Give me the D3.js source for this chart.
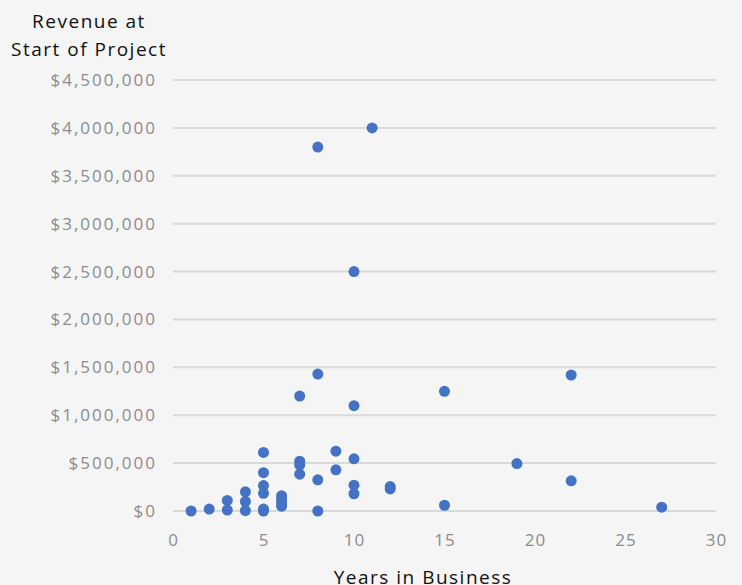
<!DOCTYPE html>
<html>
<head>
<meta charset="utf-8">
<script src="https://cdn.jsdelivr.net/npm/d3@7"></script>
<style>
  body { margin: 0; background: #f5f5f5; }
  svg { display: block; font-family: "Open Sans", Lato, sans-serif; }
</style>
</head>
<body>
<svg id="chart" width="742" height="585"></svg>
<script>
// years in business for each project
var years = [1, 2, 3, 3, 4, 4, 4, 5, 5, 5, 5, 5, 5,
    6, 6, 6, 6, 7, 7, 7, 7, 8, 8, 8, 8, 9, 9,
    10, 10, 10, 10, 10, 11, 12, 12, 15, 15, 19, 22, 22, 27];
// revenue at start of project, same order
var revenue = [0, 20000, 10000, 110000, 5000, 100000, 200000, 0, 20000, 185000, 265000, 400000, 612000,
    50000, 80000, 120000, 160000, 385000, 480000, 520000, 1200000, 0, 325000, 1430000, 3800000, 430000, 625000,
    180000, 270000, 545000, 1100000, 2500000, 4000000, 230000, 255000, 60000, 1250000, 495000, 315000, 1420000, 40000];

var yTicks = [0, 500000, 1000000, 1500000, 2000000, 2500000, 3000000, 3500000, 4000000, 4500000];
var xTicks = [0, 5, 10, 15, 20, 25, 30];

var points = years.map(function(d, i) { return {years: d, revenue: revenue[i]}; });

var plotLeft = 173, plotRight = 716, plotTop = 80, plotBottom = 511;

var x = d3.scaleLinear().domain([0, 30]).range([plotLeft, plotRight]);
var y = d3.scaleLinear().domain([0, 4500000]).range([plotBottom, plotTop]);

var svg = d3.select('#chart');

svg.append('rect').attr('width', 742).attr('height', 585).attr('fill', '#f5f5f5');

// grid lines
svg.append('g').selectAll('line').data(yTicks).enter().append('line')
    .attr('x1', plotLeft).attr('x2', plotRight)
    .attr('y1', function(d) { return y(d); })
    .attr('y2', function(d) { return y(d); })
    .attr('stroke', '#d9d9d9')
    .attr('stroke-width', 2);

var fmt = d3.format('$,');

var yAxis = svg.append('g')
    .attr('transform', 'translate(' + (plotLeft - 16) + ',0)')
    .call(d3.axisLeft(y).tickValues(yTicks).tickSize(0).tickPadding(0).tickFormat(fmt));
yAxis.select('.domain').remove();
yAxis.selectAll('text')
    .attr('fill', '#8c8c8c')
    .style('font-size', '17px')
    .style('letter-spacing', '2px')
    .style('font-family', '"Open Sans", Lato, sans-serif');

var xAxis = svg.append('g')
    .attr('transform', 'translate(0,' + (plotBottom + 23) + ')')
    .call(d3.axisBottom(x).tickValues(xTicks).tickSize(0).tickPadding(0));
xAxis.select('.domain').remove();
xAxis.selectAll('text')
    .attr('fill', '#8c8c8c')
    .style('font-size', '17px')
    .style('letter-spacing', '1px')
    .style('font-family', '"Open Sans", Lato, sans-serif');

// points
svg.append('g').selectAll('circle').data(points).enter().append('circle')
    .attr('cx', function(d) { return x(d.years); })
    .attr('cy', function(d) { return y(d.revenue); })
    .attr('r', 5.5)
    .attr('fill', '#4472c4');

// axis titles
var title = svg.append('text')
    .attr('x', 89)
    .attr('text-anchor', 'middle')
    .attr('fill', '#111')
    .style('font-size', '19px')
    .style('letter-spacing', '1.5px');
title.append('tspan').attr('x', 89).attr('y', 28).text('Revenue at');
title.append('tspan').attr('x', 89).attr('y', 56).text('Start of Project');

svg.append('text')
    .attr('x', 423)
    .attr('y', 584)
    .attr('text-anchor', 'middle')
    .attr('fill', '#111')
    .style('font-size', '19px')
    .style('letter-spacing', '1.5px')
    .text('Years in Business');
</script>
</body>
</html>
